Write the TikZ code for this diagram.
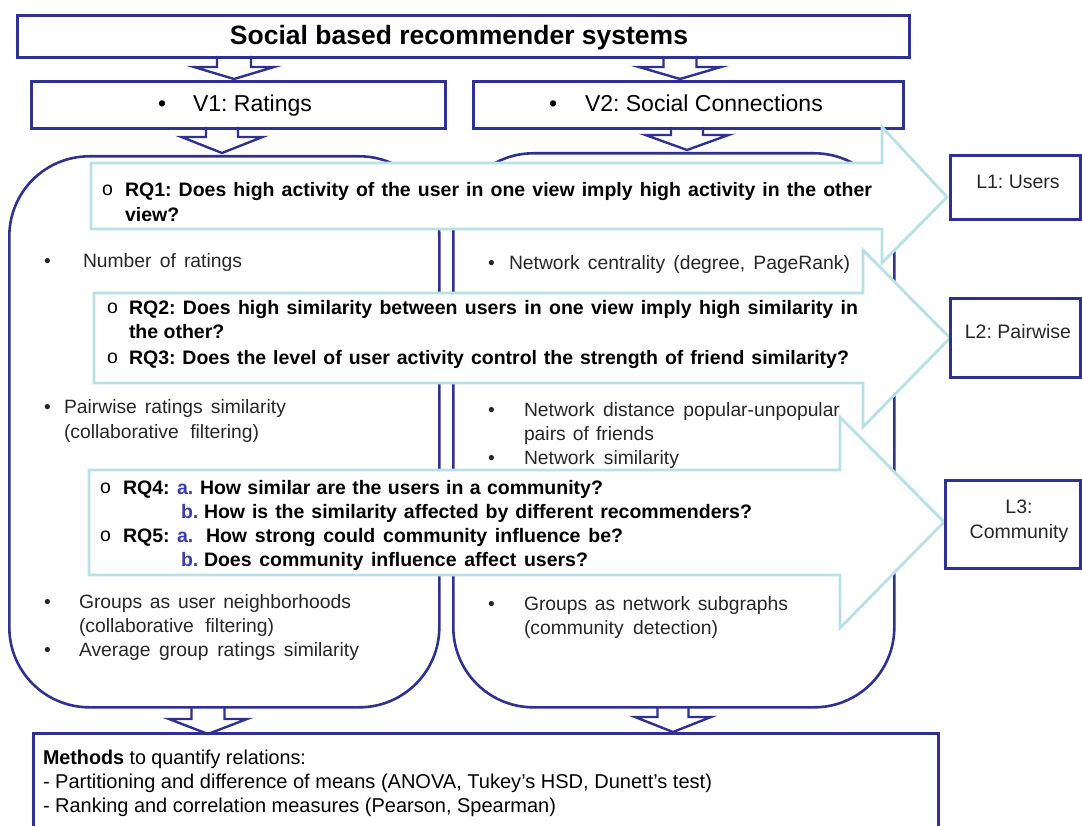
\documentclass[tikz,border=0pt]{standalone}
\usepackage{fontspec}
\setmainfont{Liberation Sans}
\usepackage{graphicx}
\definecolor{navy}{RGB}{46,49,146}
\definecolor{cyanl}{RGB}{183,225,229}
\definecolor{tgray}{RGB}{38,38,38}
\definecolor{bluel}{RGB}{60,60,170}
\frenchspacing
\newcommand\spr[2]{\makebox[#1pt][s]{#2}}
\newcommand\blockarrow[6]{%
  \draw[blk] (#1-#5,#2) -- (#1-#5,#3) -- (#1-#6,#3) -- (#1,#4) -- (#1+#6,#3) -- (#1+#5,#3) -- (#1+#5,#2);}
\tikzset{
  box/.style={draw=navy, line width=2.6pt, rectangle, inner sep=0pt, anchor=north west},
  rbox/.style={box, rounded corners=80pt},
  blk/.style={draw=navy, line width=2.4pt, fill=white, line join=miter},
  rq/.style={draw=cyanl, line width=2.8pt, fill=white, line join=miter},
  t/.style={anchor=base west, inner sep=0pt, outer sep=0pt, text=tgray, font=\fontsize{19.3}{22}\selectfont},
  tb/.style={t, text=black, font=\fontsize{19.5}{22}\selectfont\bfseries},
  ob/.style={t, text=black, font=\fontsize{19.5}{22}\selectfont},
  ab/.style={tb, text=bluel},
  vt/.style={t, text=black, font=\fontsize{23}{26}\selectfont},
  lt/.style={anchor=base, inner sep=0pt, text=tgray, font=\fontsize{19.5}{22}\selectfont},
  mt/.style={t, text=black, font=\fontsize{20}{22}\selectfont},
}
\begin{document}
\begin{tikzpicture}[x=1pt,y=-1pt]
\useasboundingbox (0,0) rectangle (1082,826);
\clip (0,0) rectangle (1082,826);
% block arrows
\blockarrow{234}{56}{67}{79}{17}{40}
\blockarrow{680}{56}{67}{79}{16.5}{41}
\blockarrow{222}{127}{137}{153}{16}{40.5}
\blockarrow{687}{127}{135}{150}{16}{41.5}
\blockarrow{208}{706}{719}{734}{16.5}{39}
\blockarrow{673}{706}{717}{732}{15.5}{38}
% boxes
\node[box, minimum width=892pt, minimum height=42pt] (title) at (16,14) {};
\node[anchor=base, inner sep=0pt, font=\fontsize{26.5}{30}\selectfont\bfseries] (titletxt) at (459,45) {Social based recommender systems};
\node[box, minimum width=414pt, minimum height=47pt] (v1) at (30,80) {};
\node[box, minimum width=430pt, minimum height=47pt] (v2) at (472,80) {};
\node[vt] (v1b) at (158,112) {•};
\node[vt] (v1t) at (193,112) {V1: Ratings};
\node[vt] (v2b) at (549,112) {•};
\node[vt] (v2t) at (585,112) {V2: Social Connections};
\node[rbox, minimum width=430pt, minimum height=551pt] (lbox) at (8,155) {};
\node[rbox, minimum width=441pt, minimum height=554pt] (rbox) at (452,152) {};
% RQ arrows
\draw[rq] (91,163) -- (882,163) -- (882,127) -- (947,197) -- (882,263) -- (882,229) -- (91,229) -- cycle;
\draw[rq] (94,293) -- (863,293) -- (863,250) -- (950,338) -- (863,427) -- (863,383) -- (94,383) -- cycle;
\draw[rq] (89,470) -- (840,470) -- (840,417) -- (944,522) -- (840,628) -- (840,575) -- (89,575) -- cycle;
% RQ texts
\node[ob] (o1) at (102,196) {o};
\node[tb] (q1a) at (125,197) {\spr{747}{RQ1: Does high activity of the user in one view imply high activity in the other}};
\node[tb] (q1b) at (125,222) {view?};
\node[ob] (o2) at (107,314) {o};
\node[tb] (q2a) at (129,315) {\spr{729}{RQ2: Does high similarity between users in one view imply high similarity in}};
\node[tb] (q2b) at (129,339) {the other?};
\node[ob] (o3) at (107,363) {o};
\node[tb] (q3) at (129,364) {\spr{720}{RQ3: Does the level of user activity control the strength of friend similarity?}};
\node[ob] (o4) at (100,493) {o};
\node[tb] (q4) at (123,494) {RQ4:};
\node[ab] (q4a) at (177,494) {a.};
\node[tb] (q4at) at (200,494) {\spr{403}{How similar are the users in a community?}};
\node[ab] (q4b) at (181,518) {b.};
\node[tb] (q4bt) at (204,518) {\spr{548}{How is the similarity affected by different recommenders?}};
\node[ob] (o5) at (100,541) {o};
\node[tb] (q5) at (123,542) {RQ5:};
\node[ab] (q5a) at (177,542) {a.};
\node[tb] (q5at) at (206,542) {\spr{417}{How strong could community influence be?}};
\node[ab] (q5b) at (181,566) {b.};
\node[tb] (q5bt) at (204,566) {\spr{384}{Does community influence affect users?}};
% left items
\node[t] (lb1) at (44,268) {•};
\node[t] (l1) at (83,268) {\spr{159}{Number of ratings}};
\node[t] (lb2) at (44,413) {•};
\node[t] (l2a) at (64,413) {\spr{222}{Pairwise ratings similarity}};
\node[t] (l2b) at (64,438) {\spr{195}{(collaborative filtering)}};
\node[t] (lb3) at (44,608) {•};
\node[t] (l3a) at (79,608) {\spr{272}{Groups as user neighborhoods}};
\node[t] (l3b) at (79,632) {\spr{195}{(collaborative filtering)}};
\node[t] (lb4) at (44,656) {•};
\node[t] (l4) at (79,656) {\spr{280}{Average group ratings similarity}};
% right items
\node[t] (rb1) at (488,270) {•};
\node[t] (r1) at (509,270) {\spr{341}{Network centrality (degree, PageRank)}};
\node[t] (rb2) at (488,416) {•};
\node[t] (r2a) at (524,416) {\spr{316}{Network distance popular-unpopular}};
\node[t] (r2b) at (524,440) {\spr{130}{pairs of friends}};
\node[t] (rb3) at (488,464) {•};
\node[t] (r3) at (524,464) {\spr{155}{Network similarity}};
\node[t] (rb4) at (488,610) {•};
\node[t] (r4a) at (524,610) {\spr{264}{Groups as network subgraphs}};
\node[t] (r4b) at (524,634) {\spr{194}{(community detection)}};
% level boxes
\node[box, minimum width=130pt, minimum height=64pt] (L1) at (949,154) {};
\node[box, minimum width=130pt, minimum height=79pt] (L2) at (949,297) {};
\node[box, minimum width=135pt, minimum height=88pt] (L3) at (944,479) {};
\node[lt] (L1t) at (1018,189) {L1: Users};
\node[lt] (L2t) at (1018,339) {L2: Pairwise};
\node[lt] (L3t) at (1019,513) {L3:};
\node[lt] (L3u) at (1019,538) {Community};
% methods
\node[box, minimum width=905pt, minimum height=120pt] (meth) at (32,732) {};
\node[mt] (m1) at (43,764) {\resizebox{263pt}{\height}{\textbf{Methods} to quantify relations:}};
\node[mt] (m2) at (43,788) {\resizebox{669pt}{\height}{- Partitioning and difference of means (ANOVA, Tukey’s HSD, Dunett’s test)}};
\node[mt] (m3) at (43,812) {\resizebox{513pt}{\height}{- Ranking and correlation measures (Pearson, Spearman)}};
\end{tikzpicture}
\end{document}
